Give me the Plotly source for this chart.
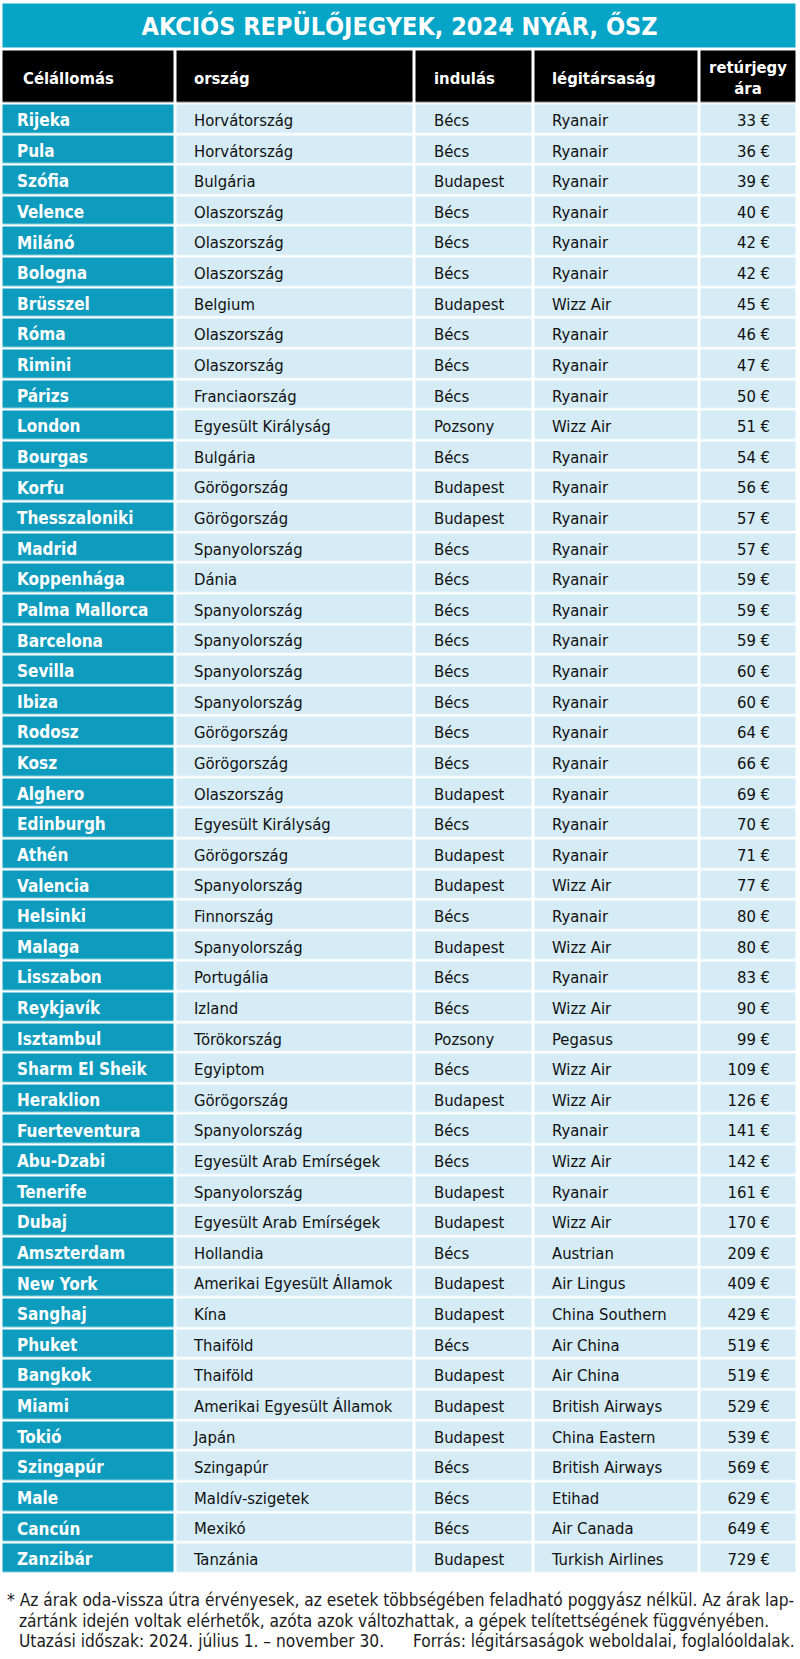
import plotly.graph_objects as go

title_text = "AKCIÓS REPÜLŐJEGYEK, 2024 NYÁR, ŐSZ"
headers = ["Célállomás", "ország", "indulás", "légitársaság", "retúrjegy<br>ára"]

cities = ["Rijeka", "Pula", "Szófia", "Velence", "Milánó", "Bologna", "Brüsszel", "Róma",
          "Rimini", "Párizs", "London", "Bourgas", "Korfu", "Thesszaloniki", "Madrid",
          "Koppenhága", "Palma Mallorca", "Barcelona", "Sevilla", "Ibiza", "Rodosz", "Kosz",
          "Alghero", "Edinburgh", "Athén", "Valencia", "Helsinki", "Malaga", "Lisszabon",
          "Reykjavík", "Isztambul", "Sharm El Sheik", "Heraklion", "Fuerteventura",
          "Abu-Dzabi", "Tenerife", "Dubaj", "Amszterdam", "New York", "Sanghaj", "Phuket",
          "Bangkok", "Miami", "Tokió", "Szingapúr", "Male", "Cancún", "Zanzibár"]

countries = ["Horvátország", "Horvátország", "Bulgária", "Olaszország", "Olaszország",
             "Olaszország", "Belgium", "Olaszország", "Olaszország", "Franciaország",
             "Egyesült Királyság", "Bulgária", "Görögország", "Görögország", "Spanyolország",
             "Dánia", "Spanyolország", "Spanyolország", "Spanyolország", "Spanyolország",
             "Görögország", "Görögország", "Olaszország", "Egyesült Királyság", "Görögország",
             "Spanyolország", "Finnország", "Spanyolország", "Portugália", "Izland",
             "Törökország", "Egyiptom", "Görögország", "Spanyolország",
             "Egyesült Arab Emírségek", "Spanyolország", "Egyesült Arab Emírségek",
             "Hollandia", "Amerikai Egyesült Államok", "Kína", "Thaiföld", "Thaiföld",
             "Amerikai Egyesült Államok", "Japán", "Szingapúr", "Maldív-szigetek", "Mexikó",
             "Tanzánia"]

departures = ["Bécs", "Bécs", "Budapest", "Bécs", "Bécs", "Bécs", "Budapest", "Bécs", "Bécs",
              "Bécs", "Pozsony", "Bécs", "Budapest", "Budapest", "Bécs", "Bécs", "Bécs",
              "Bécs", "Bécs", "Bécs", "Bécs", "Bécs", "Budapest", "Bécs", "Budapest",
              "Budapest", "Bécs", "Budapest", "Bécs", "Bécs", "Pozsony", "Bécs", "Budapest",
              "Bécs", "Bécs", "Budapest", "Budapest", "Bécs", "Budapest", "Budapest", "Bécs",
              "Budapest", "Budapest", "Budapest", "Bécs", "Bécs", "Bécs", "Budapest"]

airlines = ["Ryanair", "Ryanair", "Ryanair", "Ryanair", "Ryanair", "Ryanair", "Wizz Air",
            "Ryanair", "Ryanair", "Ryanair", "Wizz Air", "Ryanair", "Ryanair", "Ryanair",
            "Ryanair", "Ryanair", "Ryanair", "Ryanair", "Ryanair", "Ryanair", "Ryanair",
            "Ryanair", "Ryanair", "Ryanair", "Ryanair", "Wizz Air", "Ryanair", "Wizz Air",
            "Ryanair", "Wizz Air", "Pegasus", "Wizz Air", "Wizz Air", "Ryanair", "Wizz Air",
            "Ryanair", "Wizz Air", "Austrian", "Air Lingus", "China Southern", "Air China",
            "Air China", "British Airways", "China Eastern", "British Airways", "Etihad",
            "Air Canada", "Turkish Airlines"]

prices = [33, 36, 39, 40, 42, 42, 45, 46, 47, 50, 51, 54, 56, 57, 57, 59, 59, 59, 60, 60,
          64, 66, 69, 70, 71, 77, 80, 80, 83, 90, 99, 109, 126, 141, 142, 161, 170, 209,
          409, 429, 519, 519, 529, 539, 569, 629, 649, 729]

footnote_lines = [
    "* Az árak oda-vissza útra érvényesek, az esetek többségében feladható poggyász nélkül. Az árak lap-",
    "zártánk idején voltak elérhetők, azóta azok változhattak, a gépek telítettségének függvényében.",
    "Utazási időszak: 2024. július 1. – november 30.",
]
source_text = "Forrás: légitársaságok weboldalai, foglalóoldalak."

# ---- layout / style constants (pixels) ----
W, H = 800, 1659
FONT = "DejaVu Sans Condensed, Tahoma, sans-serif"
TEAL_TITLE = "#06a4c6"
TEAL_COL = "#0e9cbe"
LIGHT = "#d5ebf5"
TXT = "#111111"

col_edges = [1.5, 175, 414, 533, 699, 797.5]
title_edges_y = [2.5, 49.5]
header_edges_y = [49.5, 103.5]
row_pitch = 30.62
text_x = [17, 194, 434, 552, 770]
header_text_x = [23, 194, 434, 552, 748]
text_dy = 3  # baseline correction for vertically centred text

n = len(cities)
y_edges = header_edges_y + [header_edges_y[1] + (i + 1) * row_pitch for i in range(n)]
row_centers = [(y_edges[i + 1] + y_edges[i + 2]) / 2 + text_dy for i in range(n)]
header_center = (y_edges[0] + y_edges[1]) / 2 + text_dy

# colour codes: 0 light, 1 teal column, 2 black header, 3 title teal
colorscale = [[0, LIGHT], [1 / 3, TEAL_COL], [2 / 3, "black"], [1, TEAL_TITLE]]
z_main = [[2] * 5] + [[1, 0, 0, 0, 0] for _ in range(n)]

fig = go.Figure()

fig.add_trace(go.Heatmap(
    x=[col_edges[0], col_edges[-1]], y=title_edges_y, z=[[3]],
    colorscale=colorscale, zmin=0, zmax=3, showscale=False, xgap=3, ygap=3,
    hoverinfo="skip"))

fig.add_trace(go.Heatmap(
    x=col_edges, y=y_edges, z=z_main,
    colorscale=colorscale, zmin=0, zmax=3, showscale=False, xgap=3, ygap=2.5,
    hoverinfo="skip"))

# title text
fig.add_trace(go.Scatter(
    x=[(col_edges[0] + col_edges[-1]) / 2], y=[(title_edges_y[0] + title_edges_y[1]) / 2 + 3],
    mode="text", text=[title_text], textposition="middle center", hoverinfo="skip",
    textfont=dict(family=FONT, size=25, color="white", weight="bold")))

# header texts
for j, h in enumerate(headers):
    fig.add_trace(go.Scatter(
        x=[header_text_x[j]], y=[header_center], mode="text", text=[h],
        textposition="middle center" if j == 4 else "middle right", hoverinfo="skip",
        textfont=dict(family=FONT, size=16.5, color="white", weight="bold")))

# body columns
columns = [cities, countries, departures, airlines, [f"{p} €" for p in prices]]
for j, col in enumerate(columns):
    fig.add_trace(go.Scatter(
        x=[text_x[j]] * n, y=row_centers, mode="text", text=col,
        textposition="middle left" if j == 4 else "middle right", hoverinfo="skip",
        textfont=dict(family=FONT, size=17 if j == 0 else 16.5,
                      color="white" if j == 0 else TXT,
                      weight="bold" if j == 0 else "normal")))

foot_y = [1600, 1621, 1641]
foot_font = dict(family=FONT, size=17.2, color="#1a1a1a")
fig.add_annotation(x=5, y=foot_y[0], xanchor="left", yanchor="middle",
                   text=footnote_lines[0], showarrow=False, font=foot_font)
fig.add_annotation(x=17, y=foot_y[1], xanchor="left", yanchor="middle",
                   text=footnote_lines[1], showarrow=False, font=foot_font)
fig.add_annotation(x=17, y=foot_y[2], xanchor="left", yanchor="middle",
                   text=footnote_lines[2], showarrow=False, font=foot_font)
fig.add_annotation(x=797, y=foot_y[2], xanchor="right", yanchor="middle",
                   text=source_text, showarrow=False, font=foot_font)

fig.update_layout(
    width=W, height=H, margin=dict(l=0, r=0, t=0, b=0, pad=0),
    paper_bgcolor="white", plot_bgcolor="white", showlegend=False,
    xaxis=dict(range=[0, W], visible=False, fixedrange=True),
    yaxis=dict(range=[H, 0], visible=False, fixedrange=True),
)

fig.write_html("out.html", config={"displayModeBar": False},
               post_script="document.body.style.margin='0';document.body.style.overflow='hidden';")
